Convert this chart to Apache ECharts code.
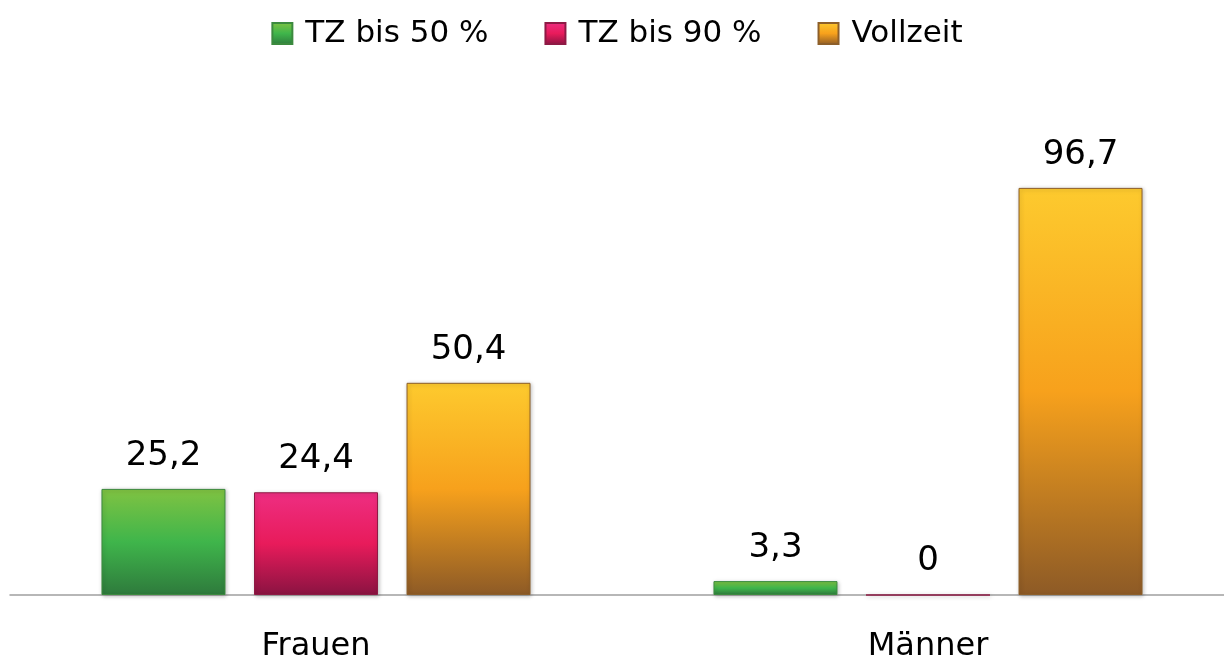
<!DOCTYPE html>
<html><head><meta charset="utf-8">
<script src="https://cdn.jsdelivr.net/npm/echarts@6/dist/echarts.min.js"></script>
<style>html,body{margin:0;padding:0;background:#fff;overflow:hidden}#c{width:1234px;height:660px}</style>
</head><body><div id="c"></div>
<script>
const categories = ['Frauen', 'Männer'];
const seriesNames = ['TZ bis 50 %', 'TZ bis 90 %', 'Vollzeit'];
const tz50 = [25.2, 3.3];
const tz90 = [24.4, 0];
const vollzeit = [50.4, 96.7];

function grad(top, mid, bot) {
  return new echarts.graphic.LinearGradient(0, 0, 0, 1, [
    {offset: 0, color: top}, {offset: 0.5, color: mid}, {offset: 1, color: bot}
  ]);
}
const fills = [
  grad('#80c342', '#3fb54b', '#2e7a3c'),
  grad('#ee2e82', '#e81b5b', '#8a1341'),
  grad('#fdca2e', '#f7a11c', '#8d5a26')
];
const borders = ['#3c8a3e', '#8e1a45', '#8d5f2a'];
const fmt = p => String(p.value).replace('.', ',');
const FONT = 'DejaVu Sans';

const chart = echarts.init(document.getElementById('c'));
chart.setOption({
  animation: false,
  textStyle: {fontFamily: FONT},
  legend: {
    top: 13, left: 'center', icon: 'rect',
    itemWidth: 20, itemHeight: 21, itemGap: 56,
    textStyle: {fontSize: 31, color: '#000', fontFamily: FONT, padding: [0, 0, 0, 8]},
    data: seriesNames
  },
  grid: {left: 10, top: 174, width: 1224, height: 421, outerBoundsMode: 'none', containLabel: false},
  xAxis: {
    type: 'category', data: categories,
    axisLine: {lineStyle: {color: '#a0a0a0', width: 1.5}},
    axisTick: {show: false},
    axisLabel: {fontSize: 32, color: '#000', margin: 36, fontFamily: FONT}
  },
  yAxis: {
    type: 'value', min: 0, max: 100, show: false,
    splitLine: {show: false}
  },
  series: [tz50, tz90, vollzeit].map((d, i) => ({
    name: seriesNames[i], type: 'bar', data: d,
    barWidth: 124, barGap: '23%',
    itemStyle: {color: fills[i], borderColor: borders[i], borderWidth: 1,
      shadowColor: 'rgba(0,0,0,0.25)', shadowBlur: 4, shadowOffsetX: 1, shadowOffsetY: 1},
    label: {show: true, position: 'top', distance: 16, fontSize: 34, color: '#000',
      fontFamily: FONT, formatter: fmt}
  }))
});
</script></body></html>
